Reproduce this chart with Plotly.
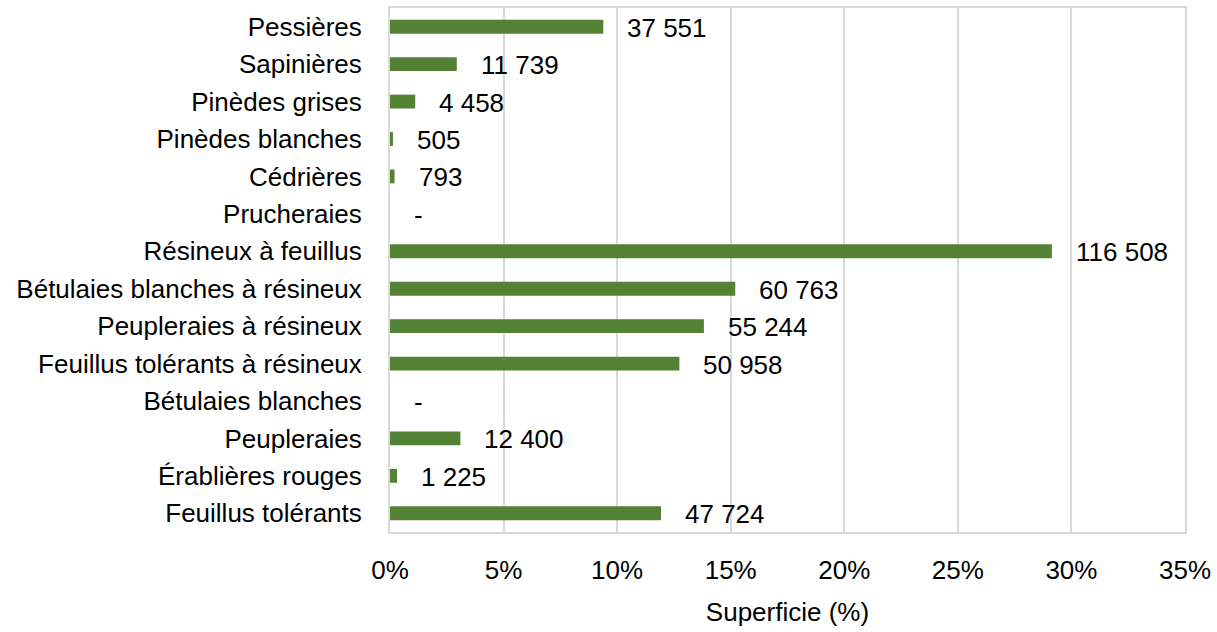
import plotly.graph_objects as go

categories = ["Pessières", "Sapinières", "Pinèdes grises", "Pinèdes blanches", "Cédrières",
              "Prucheraies", "Résineux à feuillus", "Bétulaies blanches à résineux",
              "Peupleraies à résineux", "Feuillus tolérants à résineux", "Bétulaies blanches",
              "Peupleraies", "Érablières rouges", "Feuillus tolérants"]
pct = [9.39, 2.94, 1.11, 0.13, 0.20, 0.0, 29.14, 15.20, 13.82, 12.74, 0.0, 3.10, 0.31, 11.93]
area_labels = ["37 551", "11 739", "4 458", "505", "793", "-", "116 508", "60 763",
               "55 244", "50 958", "-", "12 400", "1 225", "47 724"]
x_ticks = [0, 5, 10, 15, 20, 25, 30, 35]
x_tick_text = ["0%", "5%", "10%", "15%", "20%", "25%", "30%", "35%"]

FONT = "Liberation Sans Narrow, Arial Narrow, Liberation Sans, Arial, sans-serif"
FS = 26
GREEN = "#548235"
GRID = "#d9d9d9"

fig = go.Figure(go.Bar(
    x=pct, y=categories, orientation="h",
    marker=dict(color=GREEN, line=dict(width=0)),
    hoverinfo="skip",
))

for c, v, t in zip(categories, pct, area_labels):
    fig.add_annotation(x=v, y=c, text=t, showarrow=False, xanchor="left", yanchor="middle",
                       xshift=22, yshift=-1, font=dict(family=FONT, size=FS, color="#000000"))

fig.update_layout(
    width=1217, height=632,
    margin=dict(l=390, r=32, t=8, b=100, autoexpand=False),
    paper_bgcolor="white", plot_bgcolor="white",
    bargap=0.63,
    showlegend=False,
    font=dict(family=FONT, size=FS, color="#000000"),
    xaxis=dict(range=[0, 35], tickvals=x_ticks, ticktext=x_tick_text,
               showgrid=True, gridcolor=GRID, gridwidth=1.5,
               showline=True, linecolor=GRID, linewidth=2, mirror=True,
               zeroline=False, ticks="", ticklabelstandoff=14, automargin=False,
               title=dict(text="Superficie (%)", standoff=19,
                          font=dict(family=FONT, size=FS, color="#000000")),
               tickfont=dict(family=FONT, size=FS, color="#000000")),
    yaxis=dict(autorange="reversed", showgrid=False,
               showline=True, linecolor=GRID, linewidth=2, mirror=True,
               ticks="", ticklabelstandoff=21, automargin=False,
               tickfont=dict(family=FONT, size=FS, color="#000000")),
)

fig.write_html("out.html", config={"displayModeBar": False},
               post_script="document.body.style.margin='0px';")
